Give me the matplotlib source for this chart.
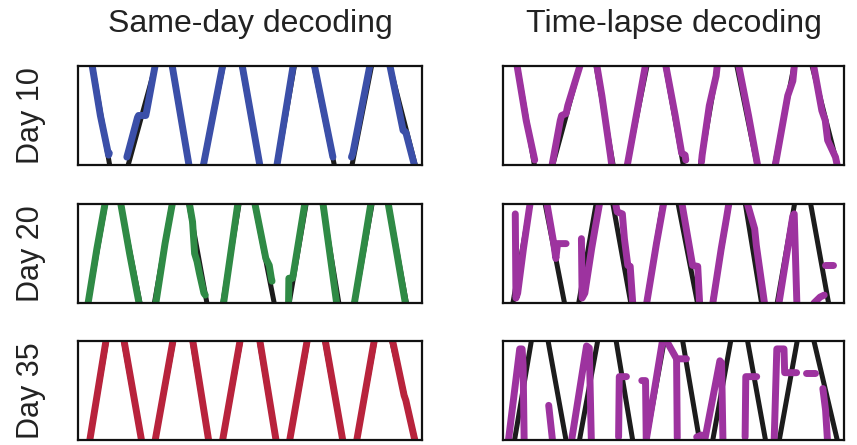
import numpy as np
import matplotlib
matplotlib.use("Agg")
import matplotlib.pyplot as plt

plt.rcParams["font.family"] = ["Liberation Sans", "DejaVu Sans"]

# time (a.u.) and track position (0 = one end, 1 = other end)
# true trajectories, one per day (values beyond 0..1 fall outside the frame)
true_day10 = [(0, 1.1), (3.7, 1.1), (9.7, -0.1), (13.8, -0.1), (23.3, 1.1),
              (26.8, 1.1), (32.8, -0.1), (35.8, -0.1), (42.8, 1.1), (47.1, 1.1),
              (53.4, -0.1), (57.4, -0.1), (63.4, 1.1), (68.0, 1.1), (75.1, -0.1),
              (79.1, -0.1), (85.9, 1.1), (89.9, 1.1), (98.8, -0.1), (100, -0.1)]
true_day20 = [(0, -0.1), (2.4, -0.1), (8.5, 1.1), (11.8, 1.1), (18.6, -0.1),
              (21.7, -0.1), (27.8, 1.1), (31.7, 1.1), (38.0, -0.1), (41.6, -0.1),
              (47.3, 1.1), (50.8, 1.1), (57.6, -0.1), (60.9, -0.1), (66.8, 1.1),
              (70.6, 1.1), (76.3, -0.1), (79.9, -0.1), (86.0, 1.1), (89.7, 1.1),
              (96.0, -0.1), (100, -0.1)]
true_day35 = [(0, -0.1), (2.9, -0.1), (8.8, 1.1), (12.7, 1.1), (19.0, -0.1),
              (21.9, -0.1), (28.3, 1.1), (32.7, 1.1), (38.5, -0.1), (41.5, -0.1),
              (47.8, 1.1), (52.2, 1.1), (58.1, -0.1), (61.0, -0.1), (67.3, 1.1),
              (71.2, 1.1), (77.5, -0.1), (80.5, -0.1), (86.8, 1.1), (90.5, 1.1),
              (98.7, -0.1), (100, -0.1)]

# decoded trajectories, as separate running segments
same_day10 = [
    [(3.9, 1.05), (6.5, 0.5), (8.9, 0.1), (9.1, 0.12)],
    [(14.2, 0.08), (14.6, 0.13), (17.3, 0.48), (17.6, 0.5), (19.7, 0.5), (20.0, 0.55), (22.4, 1.0), (22.7, 1.06)],
    [(27.1, 1.06), (32.4, -0.03)],
    [(36.3, -0.03), (42.3, 1.05)],
    [(47.5, 1.05), (53.0, -0.03)],
    [(57.7, -0.03), (62.3, 0.95), (62.8, 1.06)],
    [(68.4, 1.06), (74.1, 0.08)],
    [(79.5, 0.08), (79.9, 0.12), (85.1, 1.05)],
    [(90.4, 1.05), (94.5, 0.35), (95.3, 0.33), (98.0, -0.03)],
]
lapse_day10 = [
    [(3.9, 1.05), (6.8, 0.45), (9.3, 0.05)],
    [(14.4, 0.0), (16.8, 0.45), (17.2, 0.5), (18.5, 0.52), (19.0, 0.6), (23.0, 1.05)],
    [(27.3, 1.05), (29.0, 0.7), (31.5, 0.1), (32.0, -0.03)],
    [(36.3, -0.03), (42.0, 1.05)],
    [(47.5, 1.05), (50.5, 0.5), (52.4, 0.12), (53.4, 0.1), (53.6, 0.05)],
    [(58.2, 0.03), (58.4, 0.1), (60.5, 0.6), (62.5, 0.9), (63.0, 1.06)],
    [(68.8, 1.06), (72.0, 0.5), (74.8, -0.03)],
    [(79.7, -0.03), (83.5, 0.7), (85.0, 0.85), (85.6, 1.06)],
    [(90.8, 1.06), (93.5, 0.55), (94.5, 0.45), (95.2, 0.25), (97.5, 0.08), (98.0, 0.0)],
]
same_day20 = [
    [(2.8, -0.03), (5.5, 0.55), (8.1, 1.05)],
    [(12.2, 1.05), (15.0, 0.5), (17.9, -0.03)],
    [(22.5, -0.03), (25.3, 0.6), (27.4, 1.0), (27.8, 1.06)],
    [(32.1, 1.06), (33.3, 0.82), (33.9, 0.5), (34.6, 0.42), (35.3, 0.3), (36.6, 0.1), (37.0, 0.08)],
    [(42.2, -0.03), (46.7, 1.06)],
    [(51.1, 1.06), (54.6, 0.45), (55.6, 0.38), (56.2, 0.25), (56.4, 0.22)],
    [(61.2, -0.03), (61.3, 0.25), (62.4, 0.25), (66.2, 1.06)],
    [(71.0, 1.06), (75.3, -0.03)],
    [(80.2, -0.03), (83.0, 0.55), (85.4, 1.06)],
    [(89.9, 1.06), (92.7, 0.5), (95.3, -0.03)],
]
lapse_day20 = [
    [(3.6, 0.9), (3.8, 0.05), (4.3, 0.1), (6.0, 0.55), (7.7, 0.95), (8.2, 1.06)],
    [(12.6, 1.06), (14.8, 0.62), (15.5, 0.45), (16.0, 0.6), (18.5, 0.6)],
    [(23.0, 0.65), (23.2, 0.05), (24.0, 0.1), (26.0, 0.55), (27.0, 0.75), (28.6, 1.06)],
    [(32.7, 1.06), (33.5, 0.92), (35.0, 0.9), (35.6, 0.65), (36.6, 0.38), (37.3, 0.37), (38.1, -0.03)],
    [(42.0, -0.03), (45.0, 0.6), (47.4, 1.06)],
    [(52.2, 1.06), (55.6, 0.38), (57.1, 0.37), (57.7, -0.03)],
    [(61.4, -0.03), (64.0, 0.55), (65.5, 0.85), (66.5, 1.06)],
    [(71.2, 1.06), (73.8, 0.75), (74.3, 0.58), (76.8, -0.03)],
    [(80.8, -0.03), (85.0, 0.88), (85.4, 0.9), (86.2, -0.03)],
    [(91.2, 0.0), (93.0, 0.06), (94.2, 0.08)],
    [(94.4, 0.38), (96.9, 0.38)],
]
same_day35 = [
    [(3.3, -0.03), (8.4, 1.06)],
    [(13.1, 1.06), (18.6, -0.03)],
    [(22.3, -0.03), (27.9, 1.06)],
    [(33.1, 1.06), (38.1, -0.03)],
    [(41.9, -0.03), (47.4, 1.06)],
    [(52.6, 1.06), (57.7, -0.03)],
    [(61.4, -0.03), (66.9, 1.06)],
    [(71.6, 1.06), (77.1, -0.03)],
    [(80.9, -0.03), (86.4, 1.06)],
    [(91.1, 1.06), (94.8, 0.45), (95.3, 0.4), (98.1, -0.03)],
]
lapse_day35 = [
    [(1.5, -0.03), (4.9, 0.92), (5.6, 0.92), (5.9, 0.75), (6.2, 0.0)],
    [(13.4, 0.35), (14.6, -0.03)],
    [(20.0, -0.03), (24.5, 0.95), (25.3, 0.93), (25.9, 0.0)],
    [(33.9, 0.03), (34.1, 0.64), (36.2, 0.64)],
    [(40.7, 0.6), (41.8, 0.6), (42.0, 0.0), (46.9, 1.03)],
    [(47.5, 1.03), (50.9, 0.82), (53.8, 0.82)],
    [(50.9, 0.82), (51.1, 0.02)],
    [(56.8, 0.03), (58.2, 0.05)],
    [(59.0, -0.03), (63.6, 0.8), (64.1, 0.78), (64.5, 0.0)],
    [(71.0, 0.03), (71.2, 0.64), (74.4, 0.64)],
    [(79.5, -0.03), (80.3, 0.92), (82.4, 0.92), (82.6, 0.68), (86.1, 0.68)],
    [(89.0, 0.68), (91.5, 0.68)],
    [(93.8, 0.52), (94.6, 0.3), (95.2, -0.03)],
]

titles = ["Same-day decoding", "Time-lapse decoding"]
day_labels = ["Day 10", "Day 20", "Day 35"]
true_paths = [true_day10, true_day20, true_day35]
decoded = [[same_day10, lapse_day10], [same_day20, lapse_day20], [same_day35, lapse_day35]]
colors = [["#3b4fa8", "#9d339f"], ["#2f8a45", "#9d339f"], ["#b8233c", "#9d339f"]]


def to_xy(points):
    t, p = zip(*points)
    return np.array(t), np.array(p)


fig = plt.figure(figsize=(8.57, 4.45), dpi=100)
col_left = [78 / 857, 503 / 857]
col_width = [344 / 857, 341 / 857]
row_bottom = [1 - 165 / 445, 1 - 303 / 445, 1 - 440 / 445]
row_height = 99 / 445

for r in range(3):
    for c in range(2):
        ax = fig.add_axes([col_left[c], row_bottom[r], col_width[c], row_height])
        t, p = to_xy(true_paths[r])
        ax.plot(t, p, color="#1c1c1c", lw=3.6, solid_capstyle="round", solid_joinstyle="round")
        for seg in decoded[r][c]:
            st, sp = to_xy(seg)
            ax.plot(st, sp, color=colors[r][c], lw=5.0, solid_capstyle="round", solid_joinstyle="round")
        ax.set_xlim(0, 100)
        ax.set_ylim(0, 1)
        ax.set_xticks([])
        ax.set_yticks([])
        for s in ax.spines.values():
            s.set_linewidth(1.6)
            s.set_color("#111111")
            s.set_zorder(5)

for c in range(2):
    fig.text(col_left[c] + col_width[c] / 2, 1 - 32 / 445, titles[c], ha="center", va="baseline",
             fontsize=23, color="#222222")
for r in range(3):
    fig.text(31 / 857, row_bottom[r] + row_height / 2, day_labels[r], rotation=90, ha="center",
             va="center", fontsize=22, color="#222222")

fig.savefig("out.png", dpi=100)
